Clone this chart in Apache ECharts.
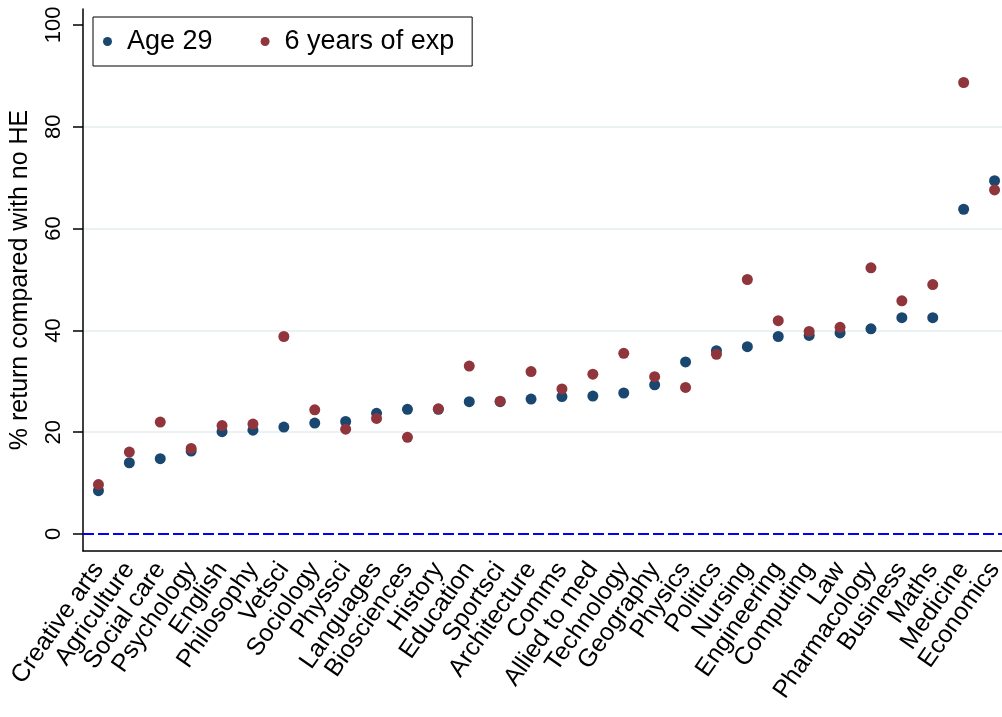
<!DOCTYPE html>
<html>
<head>
<meta charset="utf-8">
<script src="https://cdn.jsdelivr.net/npm/echarts@6/dist/echarts.min.js"></script>
<style>
  html, body { margin: 0; padding: 0; background: #fff; }
  #main { width: 1002px; height: 717px; }
</style>
</head>
<body>
<div id="main"></div>
<script>
// subjects, sorted by the age 29 return
const subjects = ['Creative arts', 'Agriculture', 'Social care', 'Psychology', 'English', 'Philosophy',
  'Vetsci', 'Sociology', 'Physsci', 'Languages', 'Biosciences', 'History', 'Education', 'Sportsci',
  'Architecture', 'Comms', 'Allied to med', 'Technology', 'Geography', 'Physics', 'Politics', 'Nursing',
  'Engineering', 'Computing', 'Law', 'Pharmacology', 'Business', 'Maths', 'Medicine', 'Economics']

const age29 = [8.5, 14.0, 14.8, 16.3, 20.1, 20.4, 21.0, 21.8, 22.1, 23.7, 24.5, 24.5, 26.0, 26.0,
  26.5, 27.0, 27.1, 27.7, 29.3, 33.8, 36.0, 36.8, 38.8, 39.0, 39.5, 40.3, 42.5, 42.5, 63.8, 69.4]

const exp6 = [9.7, 16.1, 22.0, 16.8, 21.3, 21.6, 38.8, 24.4, 20.6, 22.7, 19.0, 24.6, 33.0, 26.1,
  31.9, 28.5, 31.4, 35.5, 30.9, 28.8, 35.3, 50.0, 41.9, 39.8, 40.6, 52.3, 45.8, 49.0, 88.7, 67.6]

const yTicks = [0, 20, 40, 60, 80, 100]

let myChart = echarts.init(document.getElementById('main'))

const font = 'Liberation Sans, Arial, Helvetica, sans-serif'

var option = {
  animation: false,
  backgroundColor: '#ffffff',
  textStyle: { fontFamily: font, color: '#000' },
  legend: {
    left: 93,
    top: 17,
    padding: [11, 18, 11, 10],
    borderColor: '#000',
    borderWidth: 1,
    itemWidth: 9,
    itemHeight: 9,
    itemGap: 48,
    icon: 'circle',
    textStyle: { fontFamily: font, fontSize: 27, color: '#000', padding: [0, 0, 0, 10] },
    data: ['Age 29', '6 years of exp']
  },
  grid: {
    left: 83,
    right: -8,
    top: 9,
    bottom: 166,
    containLabel: false,
    outerBoundsMode: 'none'
  },
  xAxis: {
    type: 'category',
    data: subjects,
    boundaryGap: true,
    axisLine: { onZero: false, lineStyle: { color: '#000', width: 1.5 } },
    axisTick: { alignWithLabel: true, length: 10, lineStyle: { color: '#000', width: 1.5 } },
    axisLabel: {
      interval: 0,
      rotate: 55,
      margin: 14,
      fontSize: 25,
      color: '#000',
      fontFamily: font
    },
    splitLine: { show: false }
  },
  yAxis: {
    type: 'value',
    min: -3.34,
    max: 103.14,
    name: '% return compared with no HE',
    nameLocation: 'middle',
    nameGap: 50,
    nameRotate: 90,
    nameTextStyle: { fontSize: 25, color: '#000', fontFamily: font },
    axisLine: { show: true, lineStyle: { color: '#000', width: 1.5 } },
    axisTick: { show: true, length: 10, customValues: yTicks, lineStyle: { color: '#000', width: 1.5 } },
    axisLabel: {
      customValues: yTicks,
      rotate: 90,
      margin: 18,
      fontSize: 22,
      color: '#000',
      fontFamily: font
    },
    splitLine: {
      show: true,
      showMinLine: false,
      showMaxLine: false,
      lineStyle: { color: '#eaf2f3', width: 2 }
    }
  },
  series: [
    {
      name: 'Age 29',
      type: 'scatter',
      data: age29,
      symbolSize: 11,
      itemStyle: { color: '#1a476f', opacity: 1 },
      markLine: {
        silent: true,
        symbol: 'none',
        label: { show: false },
        emphasis: { disabled: true },
        lineStyle: { color: '#0000ff', type: [11, 4], width: 2, opacity: 1 },
        data: [{ yAxis: 0 }]
      }
    },
    {
      name: '6 years of exp',
      type: 'scatter',
      data: exp6,
      symbolSize: 11,
      itemStyle: { color: '#90353b', opacity: 1 }
    }
  ]
}

myChart.setOption(option)
</script>
</body>
</html>
